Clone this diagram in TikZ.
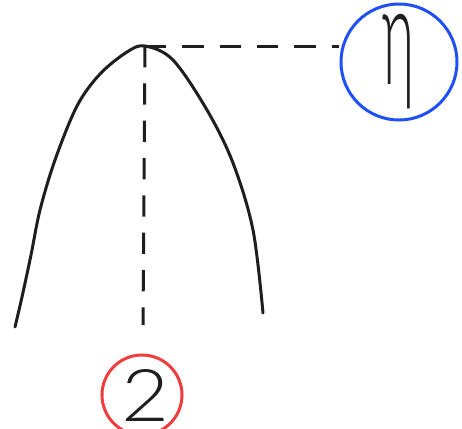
\documentclass[tikz,border=0pt]{standalone}
\usepackage{graphicx}
\usepackage{fontspec}
\newfontfamily\handfont{Lato Light}
\definecolor{inkC}{HTML}{1E1E1E}
\definecolor{blueC}{HTML}{1E50F5}
\definecolor{redC}{HTML}{F03C3C}
\begin{document}
\begin{tikzpicture}[x=0.75pt,y=-0.75pt,
  ink/.style={draw=inkC, line width=2.25pt, line cap=round, line join=round},
  dashline/.style={draw=inkC, line width=2.25pt, dash pattern=on 16pt off 12pt},
  ring/.style={circle, line width=2.25pt, inner sep=0pt}]
\useasboundingbox (0,0) rectangle (462,429);
% parabola
\draw[ink] plot[smooth, tension=0.55] coordinates {(15,327) (22,297) (31,255) (40,210) (55,160) (77,106) (100,74) (127,52) (145,46) (173,60) (207,110) (233,163) (253,230) (263,313)};
\coordinate (apex) at (145,46);
\coordinate (axisend) at (143,325);
% circles
\node[ring, draw=blueC, minimum size=87pt] (eta) at (399,62) {\textcolor{inkC}{\resizebox*{24pt}{71pt}{\handfont η}}};
\node[ring, draw=redC, minimum size=60pt] (two) at (142,395) {\textcolor{inkC}{\hspace*{6pt}\resizebox*{36pt}{39pt}{\handfont 2}}};
% dashed connectors
\draw[dashline] (apex) -- (apex -| eta.west);
\draw[dashline] (apex) -- (axisend);
\end{tikzpicture}
\end{document}
